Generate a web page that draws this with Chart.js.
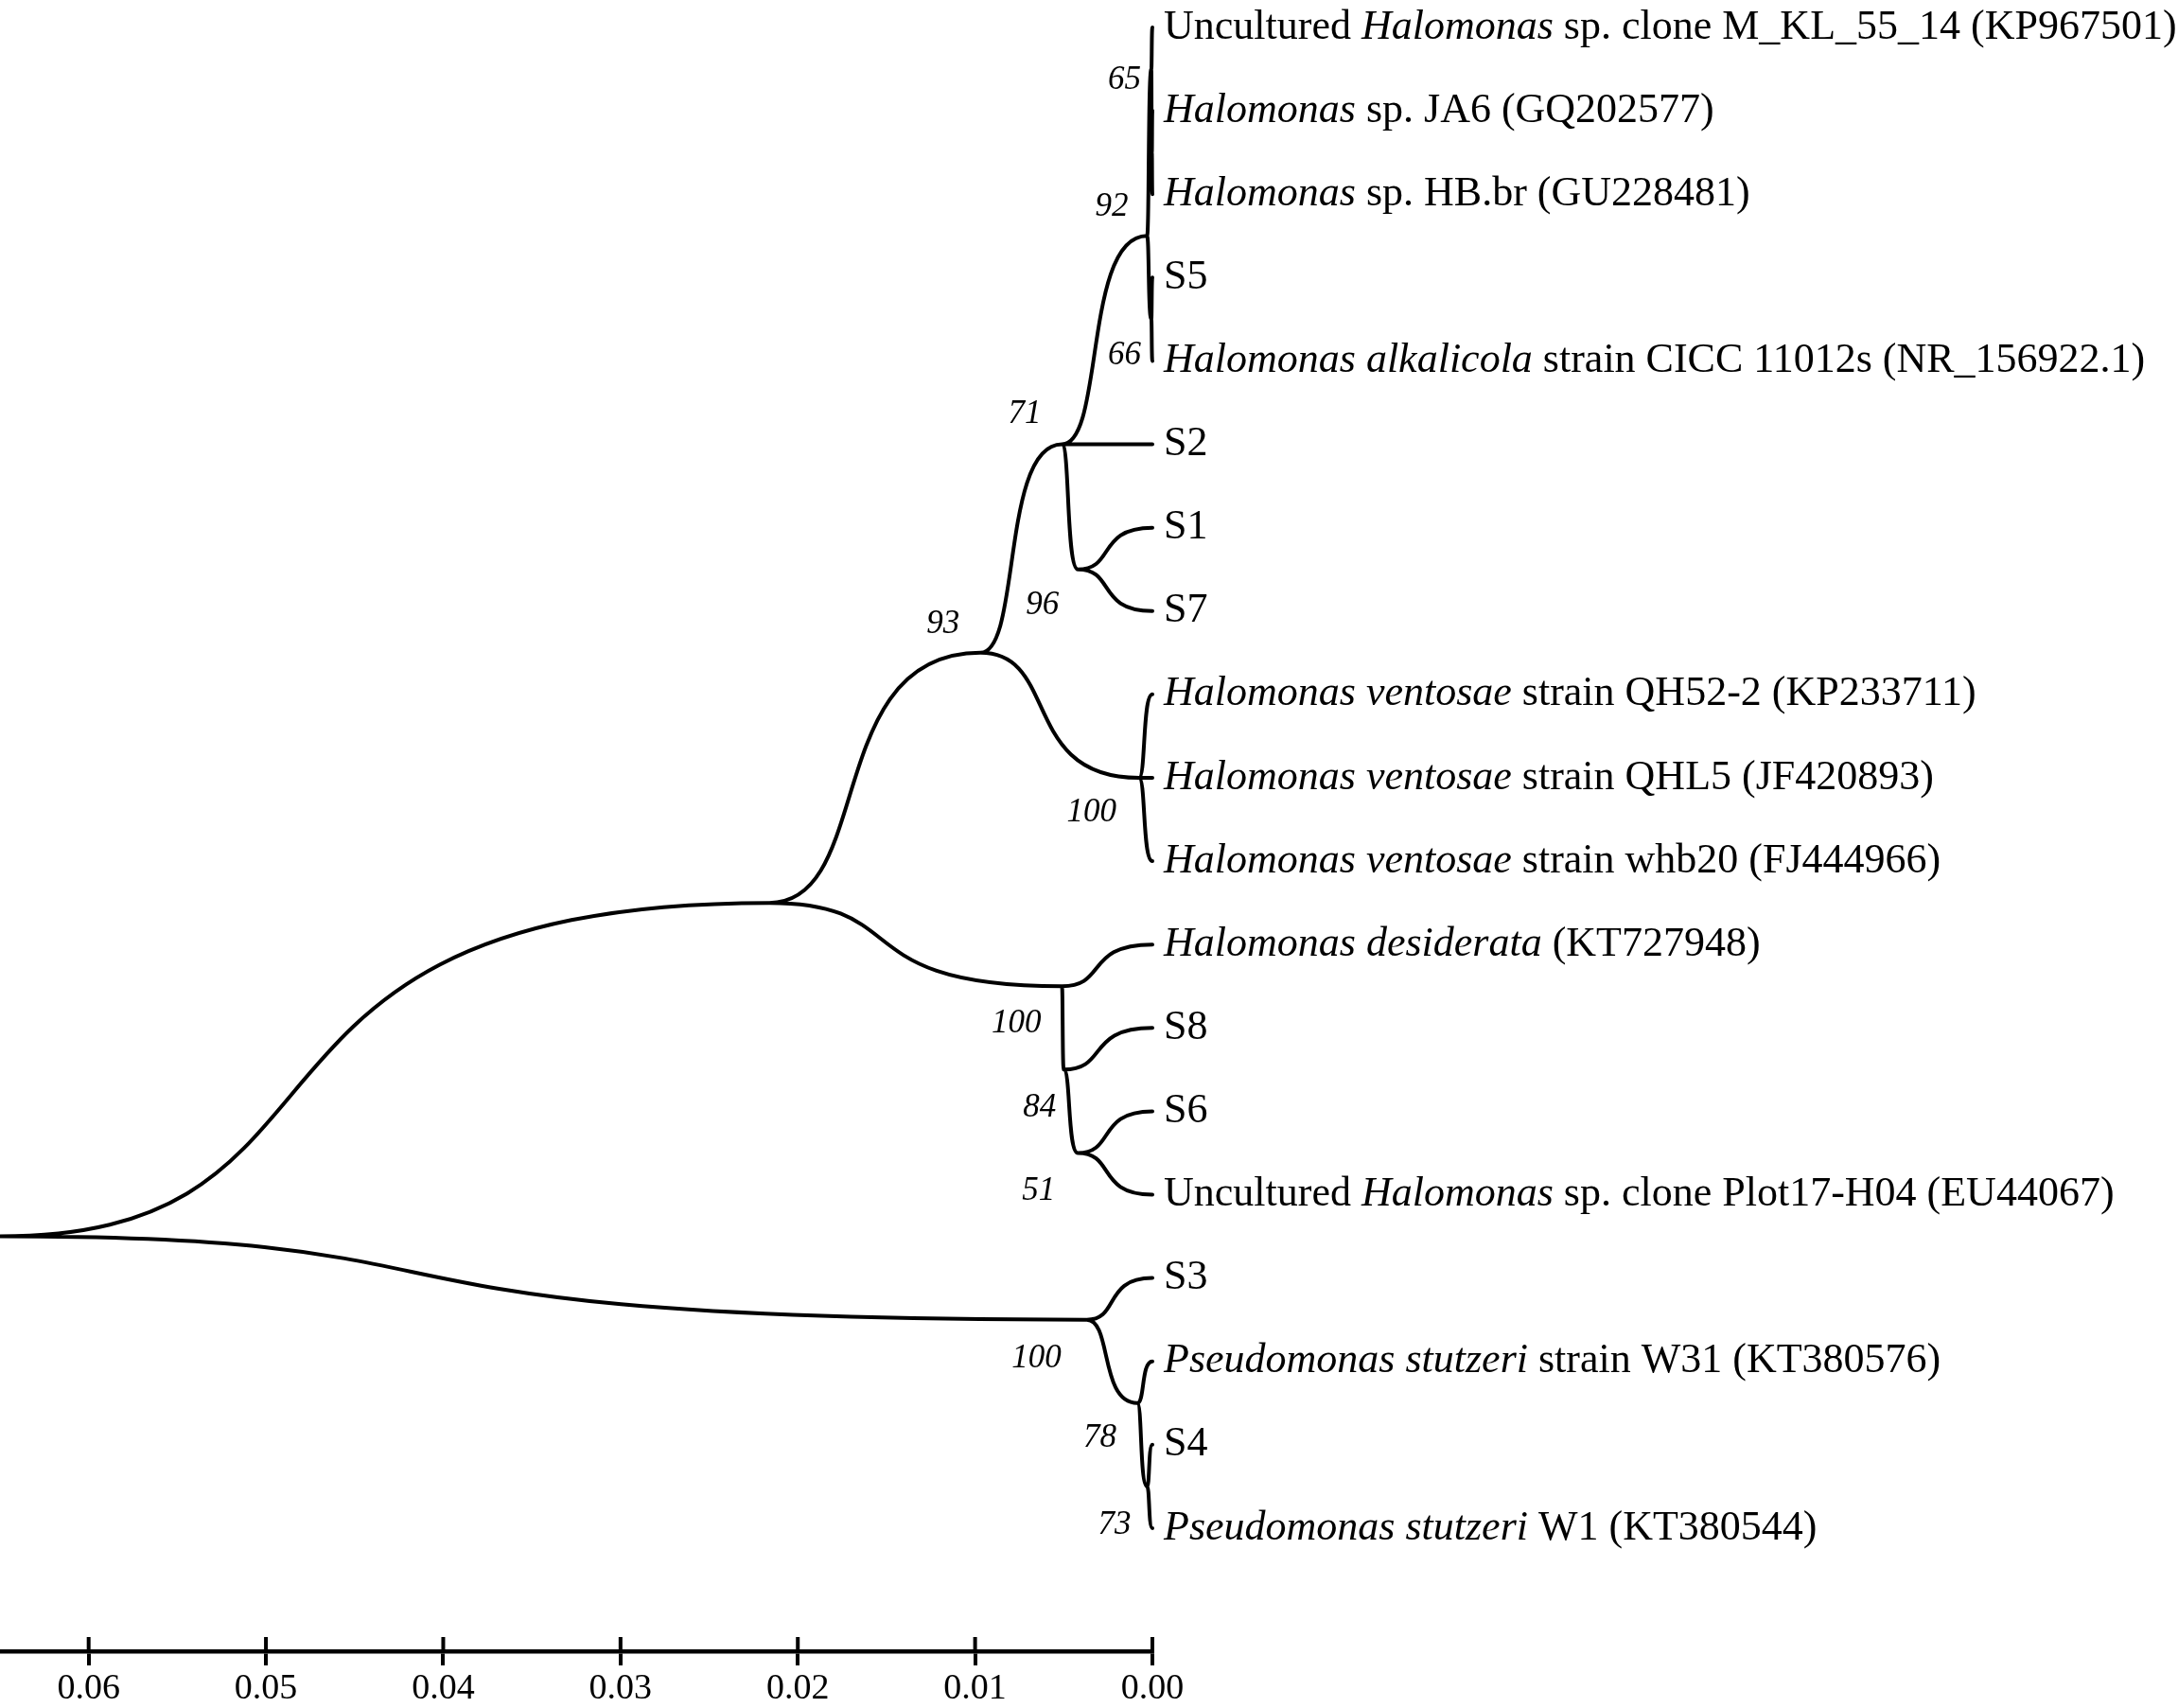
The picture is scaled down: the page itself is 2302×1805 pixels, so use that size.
<!DOCTYPE html>
<html>
<head>
<meta charset="utf-8">
<script src="https://cdn.jsdelivr.net/npm/chart.js@4.4.0/dist/chart.umd.min.js"></script>
<style>
html, body { margin: 0; padding: 0; background: #fff; }
#wrap { width: 2302px; height: 1805px; position: relative; }
</style>
</head>
<body>
<div id="wrap"><canvas id="tree"></canvas></div>
<script>
// leaf names, top to bottom; text between * is italic
const leafNames = [
    'Uncultured *Halomonas* sp. clone M_KL_55_14 (KP967501)',
    '*Halomonas* sp. JA6 (GQ202577)',
    '*Halomonas* sp. HB.br (GU228481)',
    'S5',
    '*Halomonas alkalicola* strain CICC 11012s (NR_156922.1)',
    'S2',
    'S1',
    'S7',
    '*Halomonas ventosae* strain QH52-2 (KP233711)',
    '*Halomonas ventosae* strain QHL5 (JF420893)',
    '*Halomonas ventosae* strain whb20 (FJ444966)',
    '*Halomonas desiderata* (KT727948)',
    'S8',
    'S6',
    'Uncultured *Halomonas* sp. clone Plot17-H04 (EU44067)',
    'S3',
    '*Pseudomonas stutzeri* strain W31 (KT380576)',
    'S4',
    '*Pseudomonas stutzeri* W1 (KT380544)'
];
// internal node each leaf hangs from
const leafParent = [5, 6, 6, 7, 7, 3, 8, 8, 9, 9, 9, 10, 11, 12, 12, 13, 14, 15, 15];

// internal nodes: parent index, height (distance), bootstrap value
const nodeParent  = [-1, 0, 1, 2, 3, 4, 5, 4, 3, 2, 1, 10, 11, 0, 13, 14];
const nodeHeight  = [0.065, 0.0216, 0.0097, 0.0051, 0.0003, 0.00006, 0.00003, 0.00006,
                     0.0042, 0.00075, 0.0051, 0.0050, 0.0042, 0.0037, 0.00085, 0.0003];
const nodeSupport = ['', '', '93', '71', '92', '65', '', '66', '96', '100', '100', '84', '51', '100', '78', '73'];

const tickValues = [0, 0.01, 0.02, 0.03, 0.04, 0.05, 0.06];

// where the bootstrap numbers sit relative to their node (px)
const supportDx = [0, 0, -22, -22, -20, -11, 0, -11, -20, -24, -22, -8, -24, -27, -22, -17];
const supportDy = [0, 0, -30, -32, -30, 12, 0, 38, 38, 37, 40, 40, 40, 41, 37, 41];

const serif = '"Liberation Serif", "Times New Roman", serif';

// leaf ranges and vertical placement of every node
const nNodes = nodeParent.length;
const lo = new Array(nNodes).fill(Infinity);
const hi = new Array(nNodes).fill(-Infinity);
const kids = nodeParent.map(() => []);
leafParent.forEach((p, i) => kids[p].push({ leaf: true, idx: i, lo: i + 1, hi: i + 1 }));
for (let n = nNodes - 1; n >= 0; n--) {
    kids[n].forEach(k => { lo[n] = Math.min(lo[n], k.lo); hi[n] = Math.max(hi[n], k.hi); });
    if (nodeParent[n] >= 0) kids[nodeParent[n]].push({ leaf: false, idx: n, lo: lo[n], hi: hi[n] });
}
const nodeY = new Array(nNodes);
for (let n = nNodes - 1; n >= 0; n--) {
    const c = kids[n].slice().sort((a, b) => a.lo - b.lo);
    let sum = 0;
    for (let i = 0; i < c.length - 1; i++) sum += (c[i].hi + c[i + 1].lo) / 2;
    nodeY[n] = sum / (c.length - 1);
}

const points = nodeHeight.map((h, n) => ({ x: h, y: nodeY[n] }))
    .concat(leafNames.map((_, i) => ({ x: 0, y: i + 1 })));

function drawLabel(ctx, text, x, y) {
    const parts = text.split('*');
    parts.forEach((part, i) => {
        ctx.font = (i % 2 ? 'italic ' : '') + '44px ' + serif;
        ctx.fillText(part, x, y);
        x += ctx.measureText(part).width;
    });
}

const treePlugin = {
    id: 'tree',
    afterDatasetsDraw(chart) {
        const ctx = chart.ctx;
        const xs = chart.scales.x, ys = chart.scales.y;
        ctx.save();
        ctx.strokeStyle = '#000';
        ctx.lineWidth = 4;
        ctx.lineCap = 'round';
        ctx.beginPath();
        for (let n = 0; n < nNodes; n++) {
            const x0 = xs.getPixelForValue(nodeHeight[n]);
            const y0 = ys.getPixelForValue(nodeY[n]);
            kids[n].forEach(k => {
                const x1 = xs.getPixelForValue(k.leaf ? 0 : nodeHeight[k.idx]);
                const y1 = ys.getPixelForValue(k.leaf ? k.idx + 1 : nodeY[k.idx]);
                const dx = x1 - x0;
                ctx.moveTo(x0, y0);
                ctx.bezierCurveTo(x0 + 0.5 * dx, y0, x0 + 0.25 * dx, y1, x1, y1);
            });
        }
        ctx.stroke();

        // upper half of the scale ticks
        ctx.beginPath();
        ctx.lineCap = 'butt';
        xs.ticks.forEach(t => {
            const px = xs.getPixelForValue(t.value);
            ctx.moveTo(px, xs.top - 15);
            ctx.lineTo(px, xs.top);
        });
        ctx.stroke();

        ctx.fillStyle = '#000';
        ctx.textBaseline = 'middle';
        ctx.textAlign = 'left';
        const tipX = xs.getPixelForValue(0) + 12;
        leafNames.forEach((name, i) => drawLabel(ctx, name, tipX, ys.getPixelForValue(i + 1)));

        ctx.textAlign = 'right';
        ctx.font = 'italic 35px ' + serif;
        nodeSupport.forEach((s, n) => {
            if (!s) return;
            ctx.fillText(s, xs.getPixelForValue(nodeHeight[n]) + supportDx[n],
                ys.getPixelForValue(nodeY[n]) + supportDy[n]);
        });
        ctx.restore();
    }
};

new Chart(document.getElementById('tree'), {
    type: 'scatter',
    data: {
        datasets: [{ data: points, pointRadius: 0, showLine: false }]
    },
    options: {
        responsive: true,
        maintainAspectRatio: false,
        animation: false,
        layout: { padding: { left: 0, right: 1084, top: 0, bottom: 0 } },
        plugins: { legend: { display: false }, tooltip: { enabled: false } },
        scales: {
            x: {
                type: 'linear',
                reverse: true,
                min: 0,
                max: 0.065,
                position: 'bottom',
                afterBuildTicks: axis => { axis.ticks = tickValues.map(v => ({ value: v })); },
                afterFit: axis => { axis.height = 60; },
                grid: { drawOnChartArea: false, drawTicks: true, tickLength: 15, lineWidth: 4, color: '#000' },
                border: { display: true, color: '#000', width: 4.5 },
                ticks: {
                    font: { family: serif, size: 38 },
                    color: '#000',
                    padding: 2,
                    maxRotation: 0,
                    autoSkip: false,
                    callback: v => v.toFixed(2)
                }
            },
            y: { type: 'linear', display: false, reverse: true, min: 0.671, max: 20.476 }
        }
    },
    plugins: [treePlugin]
});
</script>
</body>
</html>
